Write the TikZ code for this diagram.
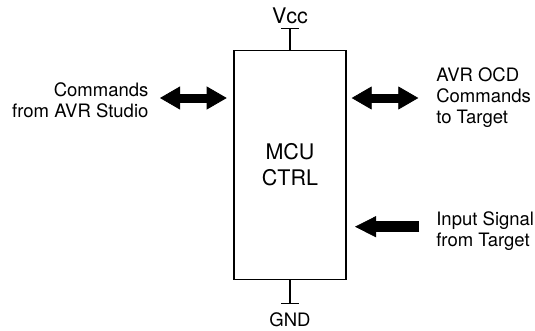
\documentclass[tikz,border=0pt]{standalone}
\usepackage{fontspec}
\setmainfont{TeX Gyre Heros}
\usetikzlibrary{arrows.meta}

\begin{document}
\begin{tikzpicture}[x=1pt,y=1pt,line width=1.2pt,
		>={Triangle[length=20pt,width=23pt,line width=0.8pt]},
		fleche/.style={line width=9pt},
		tige/.style={line width=9pt,shorten <=12pt,shorten >=12pt},
		lbl/.style={inner sep=0pt,font=\fontsize{18.5}{21}\selectfont}]
		\useasboundingbox (0,0) rectangle (535,-330);
		
		% boitier
		\node[draw,minimum width=112pt,minimum height=228.6pt,align=center,
			font=\fontsize{21.5}{26}\selectfont] (mcu) at (290,-165) {MCU\\CTRL};
		
		% alimentation
		\coordinate (vcc) at (290,-28.3);
		\coordinate (gnd) at (290,-303.3);
		\draw (mcu.north) -- (vcc);
		\draw ([xshift=-9pt]vcc) -- ([xshift=9pt]vcc);
		\draw (mcu.south) -- (gnd);
		\draw ([xshift=-9pt]gnd) -- ([xshift=9pt]gnd);
		\node[anchor=base,inner sep=0pt,font=\fontsize{21.5}{26}\selectfont] (vcctxt) at (290,-23.3) {Vcc};
		\node[lbl,anchor=base] (gndtxt) at (290,-326.7) {GND};
		
		% fleches
		\coordinate (a1) at (160,-98);
		\coordinate (a2) at (226.7,-98);
		\coordinate (b1) at (351.7,-98);
		\coordinate (b2) at (418.3,-98);
		\coordinate (c1) at (419,-226.7);
		\coordinate (c2) at (355,-226.7);
		\draw[fleche,<->] (a1) -- (a2);
		\draw[tige] (a1) -- (a2);
		\draw[fleche,<->] (b1) -- (b2);
		\draw[tige] (b1) -- (b2);
		\draw[fleche,line width=10.5pt,-{Triangle[length=21pt,width=21pt,line width=0.8pt]}] (c1) -- (c2);
		\draw[tige,line width=10.5pt,shorten <=0pt] (c1) -- (c2);
		
		\node[lbl,anchor=north east,align=right] (studio) at (149,-82.5) {Commands\\from AVR Studio};
		\node[lbl,anchor=north west,align=left] (ocd) at (435.7,-67.5) {AVR OCD\\Commands\\to Target};
		\node[lbl,anchor=north west,align=left] (signal) at (435.7,-211) {Input Signal\\from Target};
		
	\end{tikzpicture}
\end{document}
